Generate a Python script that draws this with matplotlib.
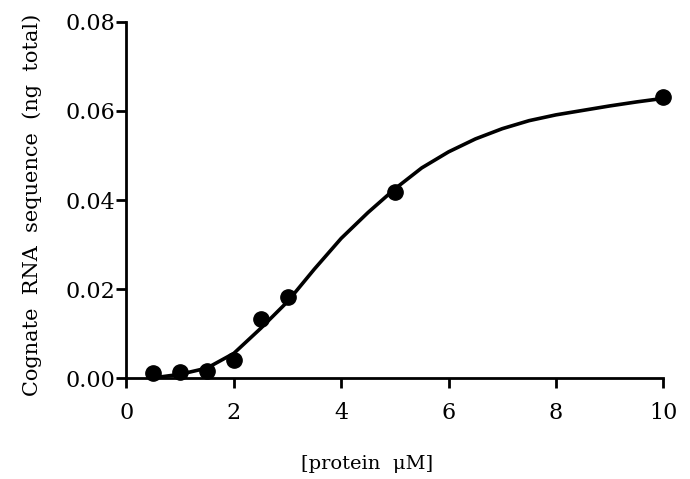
import matplotlib
matplotlib.use('Agg')
import matplotlib.pyplot as plt

# measured binding points
protein_uM = [0.5, 1.0, 1.5, 2.0, 2.5, 3.0, 5.0, 10.0]
rna_ng = [0.0011, 0.0015, 0.0016, 0.0041, 0.0133, 0.0183, 0.0418, 0.0630]

# fitted binding curve, sampled every 0.5 uM
fit_x = [0.5, 1.0, 1.5, 2.0, 2.5, 3.0, 3.5, 4.0, 4.5, 5.0,
         5.5, 6.0, 6.5, 7.0, 7.5, 8.0, 8.5, 9.0, 9.5, 10.0]
fit_y = [0.0001, 0.0009, 0.0023, 0.0056, 0.0112, 0.0172, 0.0245, 0.0314, 0.0372, 0.0425,
         0.0472, 0.0508, 0.0537, 0.0560, 0.0578, 0.0591, 0.0601, 0.0611, 0.0620, 0.0628]

x_ticks = [0, 2, 4, 6, 8, 10]
y_ticks = [0.00, 0.02, 0.04, 0.06, 0.08]

serif = 'DejaVu Serif'

fig = plt.figure(figsize=(6.9, 4.79), dpi=100)
ax = fig.add_axes([0.1833, 0.2102, 0.7780, 0.7445])

ax.plot(fit_x, fit_y, color='black', lw=2.6, solid_capstyle='round',
        solid_joinstyle='round', clip_on=False)
ax.plot(protein_uM, rna_ng, 'o', color='black', ms=11, clip_on=False)

ax.set_xlim(0, 10)
ax.set_ylim(0, 0.08)
ax.set_xticks(x_ticks)
ax.set_yticks(y_ticks)
ax.set_xticklabels([str(t) for t in x_ticks], family=serif, fontsize=16)
ax.set_yticklabels(['%.2f' % t for t in y_ticks], family=serif, fontsize=16)

for side in ['top', 'right']:
    ax.spines[side].set_visible(False)
for side in ['left', 'bottom']:
    ax.spines[side].set_linewidth(2.0)
ax.tick_params(direction='out', length=7, width=2.0)
ax.tick_params(axis='x', pad=10)
ax.tick_params(axis='y', pad=1)

ax.set_xlabel('[protein  \u03bcM]', family=serif, fontsize=14)
ax.xaxis.set_label_coords(0.448, -0.215)
ax.set_ylabel('Cognate  RNA  sequence  (ng  total)', family=serif, fontsize=15)
ax.yaxis.set_label_coords(-0.157, 0.485)

fig.savefig('out.png', dpi=100)
